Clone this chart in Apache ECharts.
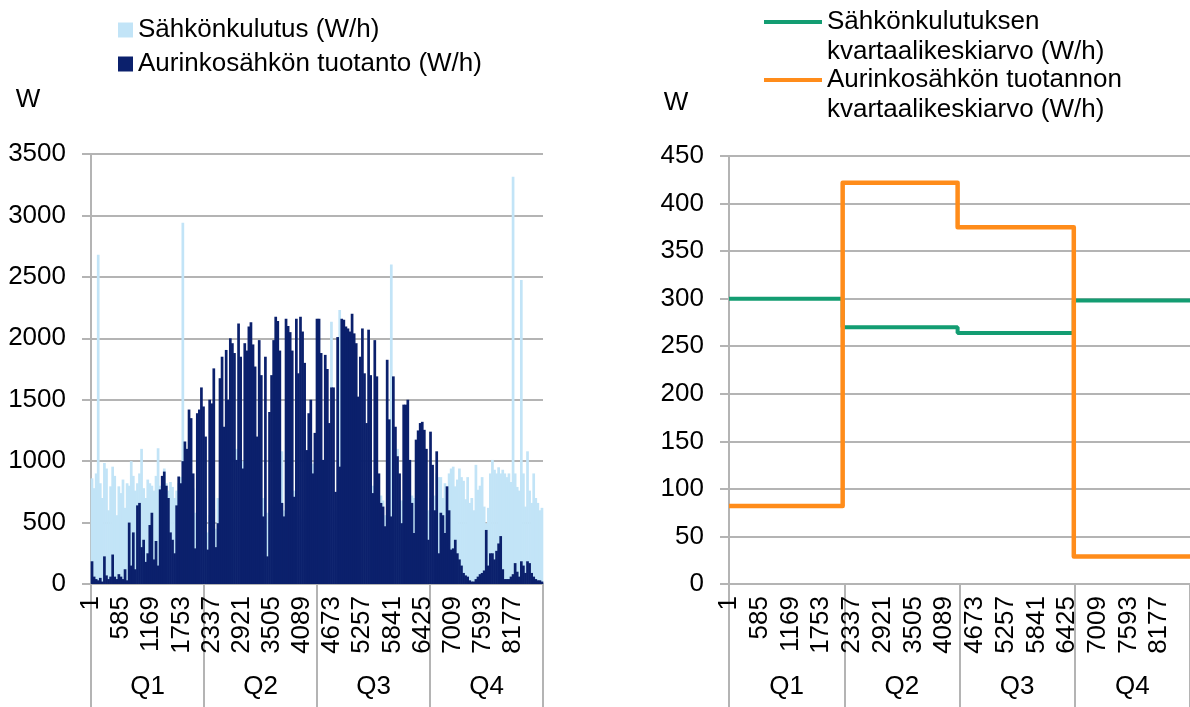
<!DOCTYPE html>
<html>
<head>
<meta charset="utf-8">
<script src="https://cdn.jsdelivr.net/npm/echarts@6/dist/echarts.min.js"></script>
<style>
  html, body { margin: 0; padding: 0; background: #ffffff; }
  #chart { width: 1190px; height: 707px; }
</style>
</head>
<body>
<div id="chart"></div>
<script>
// Quarter names shown on the second axis row
const quarters = ['Q1', 'Q2', 'Q3', 'Q4'];

// Hour-of-year axis: each bar summarises a 40-hour block of the year
const hoursInYear = 8760;
const hourTickStep = 584;
const binHours = 40;

// Hourly electricity consumption (W/h), peak value per 40-hour block
const consumption = [
  860, 780, 900, 2680, 820, 700, 985, 940, 600, 795, 955, 880, 560, 795, 740, 850, 620, 820,
  800, 1000, 880, 760, 820, 900, 1100, 780, 700, 850, 820, 800, 760, 880, 1105, 800, 780, 940,
  820, 760, 830, 790, 700, 760, 820, 870, 2940, 800, 760, 900, 820, 780, 580, 850, 820, 780, 760, 700,
  420, 560, 500, 610, 450, 700, 520, 480, 600, 540, 500, 620, 470, 530, 1100, 480, 560, 1000, 520, 490,
  600, 540, 470, 510, 620, 560, 480, 700, 530, 580, 500, 640, 520, 470, 560, 500, 1080, 600, 480, 540,
  510, 590, 760, 500, 560, 480, 530, 600, 620, 500, 540, 980, 500, 460, 520, 560, 620, 490, 530, 600,
  2135, 510, 600, 480, 2230, 500, 540, 470, 520, 560, 490, 530, 500, 560, 480, 520, 550, 600, 480, 530,
  800, 510, 560, 600, 720, 680, 560, 520, 580, 2600, 540, 600, 1100, 620, 680, 560, 520, 600, 680, 720,
  700, 560, 620, 540, 660, 600, 820,
  600, 700, 650, 720, 900, 870, 870, 700, 820, 760, 900, 940, 955, 795, 850, 940, 870, 840, 690, 870,
  660, 700, 600, 970, 767, 800, 870, 630, 495, 620, 900, 1010, 930, 900, 950, 900, 930, 900, 870, 900,
  830, 3315, 900, 790, 760, 2475, 900, 630, 1080, 760, 660, 900, 700, 660, 600, 620
];

// Solar electricity production (W/h), peak value per 40-hour block
const production = [
  185, 60, 40, 30, 50, 20, 225, 70, 40, 60, 240, 60, 40, 80, 60, 40, 120, 30,
  500, 150, 420, 120, 640, 660, 300, 360, 180, 250, 480, 580, 200, 350, 150, 770, 880, 915,
  800, 700, 420, 360, 250, 640, 875, 820, 1000, 1160, 1100, 1420, 1350, 900, 290, 1390, 1420, 1600, 1445, 1200,
  280, 1500, 1470, 1755, 300, 495, 1675, 1850, 1280, 1905, 1500, 2000, 1960, 1880, 1010, 2120, 1850, 940, 1960, 1900,
  2095, 2130, 1950, 1770, 1200, 1985, 1700, 550, 1850, 225, 1400, 1700, 1985, 2175, 2140, 1900, 660, 550, 2160, 2100,
  2050, 1900, 710, 2160, 1715, 2175, 2055, 1800, 1090, 1390, 1500, 900, 1230, 2160, 2160,
  1880, 1010, 1865, 1750, 1310, 1600, 1600, 750, 2010, 955, 2160, 2150, 2095, 2080, 2055, 2200, 2040, 1960, 1525, 1850,
  2080, 1715, 1310, 2070, 1700, 740, 1985, 1690, 900, 660, 630, 470, 1825, 1340, 550, 1690, 1280, 1040, 900, 495,
  1460, 1460, 1500, 1010, 660, 415, 1175, 1250, 1310, 1320, 1255, 1100,
  360, 1240, 970, 600, 1080, 250, 580, 560, 415, 795, 600, 280, 290, 360, 250, 200, 150, 90, 70, 60,
  30, 20, 20, 40, 60, 80, 90, 110, 440, 150, 250, 250, 200, 270, 330, 390, 120, 40, 40, 40,
  60, 80, 170, 100, 60, 185, 150, 90, 185, 170, 90, 60, 40, 30, 30, 20
];

// Quarterly averages (W/h) and the hour each quarter starts at
const quarterStartHours = [0, 2160, 4344, 6552];
const consumptionQuarterAvg = [300, 270, 264, 298];
const productionQuarterAvg = [82, 422, 375, 29];

const FONT = "'Liberation Sans', Arial, sans-serif";
const GRID_GRAY = '#b4b4b4';
const COL_CONS = '#c2e4f7';
const COL_PROD = '#0b206c';
const COL_CONS_AVG = '#139d72';
const COL_PROD_AVG = '#ff8c1a';

const toBars = arr => arr.map((v, i) => [i * binHours + binHours / 2, v]);
const toSteps = (avg) => quarterStartHours.map((h, i) => [h, avg[i]])
  .concat([[hoursInYear, avg[avg.length - 1]]]);

function hourAxis(gridIndex) {
  return {
    type: 'value', gridIndex, min: 0, max: hoursInYear, interval: hourTickStep,
    position: 'bottom',
    axisLine: { show: true, lineStyle: { color: GRID_GRAY, width: 2 } },
    axisTick: { show: false },
    splitLine: { show: false },
    axisLabel: {
      rotate: 90, margin: 12, fontSize: 26, color: '#000', fontFamily: FONT,
      showMinLabel: true, showMaxLabel: false,
      formatter: v => (v >= hoursInYear ? '' : String(v + 1))
    }
  };
}
function quarterAxis(gridIndex) {
  return {
    type: 'category', gridIndex, data: quarters, position: 'bottom',
    axisLine: { show: false },
    axisTick: { show: true, length: 125, lineStyle: { color: GRID_GRAY, width: 2 } },
    splitLine: { show: false },
    axisLabel: { margin: 90, fontSize: 26, color: '#000', fontFamily: FONT }
  };
}
function valueAxis(gridIndex, max, interval, namePad, gap) {
  return {
    type: 'value', gridIndex, min: 0, max, interval,
    name: 'W', nameLocation: 'end', nameGap: gap,
    nameTextStyle: { fontSize: 26, color: '#000', fontFamily: FONT, align: 'center', padding: [0, namePad, 0, 0] },
    axisLine: { show: true, lineStyle: { color: GRID_GRAY, width: 2 } },
    axisTick: { show: true, length: 9, lineStyle: { color: GRID_GRAY, width: 2 } },
    splitLine: { show: true, lineStyle: { color: GRID_GRAY, width: 2 } },
    axisLabel: { margin: 25, fontSize: 26, color: '#000', fontFamily: FONT, formatter: v => String(v) }
  };
}

// Two-line legend entries: a blank leading line keeps the swatch level with the first text line
const avgLegendText = {
  fontSize: 26, lineHeight: 30, color: '#000', fontFamily: FONT
};

const chart = echarts.init(document.getElementById('chart'), null, { renderer: 'canvas' });
chart.setOption({
  animation: false,
  backgroundColor: '#ffffff',
  textStyle: { fontFamily: FONT },
  grid: [
    { left: 91, top: 154, width: 452, height: 430 },
    { left: 729, top: 156, width: 466, height: 428 }
  ],
  legend: [
    {
      data: ['Sähkönkulutus (W/h)', 'Aurinkosähkön tuotanto (W/h)'],
      orient: 'vertical', left: 113, top: 12, itemGap: 8,
      icon: 'rect', itemWidth: 15, itemHeight: 15,
      textStyle: { fontSize: 26, color: '#000', fontFamily: FONT }
    },
    {
      data: ['Sähkönkulutuksen\nkvartaalikeskiarvo (W/h)'],
      orient: 'vertical', left: 759, top: -28,
      icon: 'rect', itemWidth: 58, itemHeight: 4,
      formatter: name => '\n' + name,
      textStyle: avgLegendText
    },
    {
      data: ['Aurinkosähkön tuotannon\nkvartaalikeskiarvo (W/h)'],
      orient: 'vertical', left: 759, top: 30,
      icon: 'rect', itemWidth: 58, itemHeight: 4,
      formatter: name => '\n' + name,
      textStyle: avgLegendText
    }
  ],
  xAxis: [hourAxis(0), quarterAxis(0), hourAxis(1), quarterAxis(1)],
  yAxis: [valueAxis(0, 3500, 500, 126, 41), valueAxis(1, 450, 50, 106, 40)],
  series: [
    {
      name: 'Sähkönkulutus (W/h)', type: 'bar', xAxisIndex: 0, yAxisIndex: 0,
      data: toBars(consumption), barWidth: 2.7, itemStyle: { color: COL_CONS }
    },
    {
      name: 'Aurinkosähkön tuotanto (W/h)', type: 'bar', xAxisIndex: 0, yAxisIndex: 0,
      data: toBars(production), barWidth: 2.7, barGap: '-100%', itemStyle: { color: COL_PROD }
    },
    {
      name: 'Sähkönkulutuksen\nkvartaalikeskiarvo (W/h)', type: 'line', xAxisIndex: 2, yAxisIndex: 1,
      data: toSteps(consumptionQuarterAvg), step: 'end', symbol: 'none',
      lineStyle: { color: COL_CONS_AVG, width: 4 }, itemStyle: { color: COL_CONS_AVG }
    },
    {
      name: 'Aurinkosähkön tuotannon\nkvartaalikeskiarvo (W/h)', type: 'line', xAxisIndex: 2, yAxisIndex: 1,
      data: toSteps(productionQuarterAvg), step: 'end', symbol: 'none',
      lineStyle: { color: COL_PROD_AVG, width: 4.5, join: 'round' }, itemStyle: { color: COL_PROD_AVG }
    }
  ]
});
</script>
</body>
</html>
